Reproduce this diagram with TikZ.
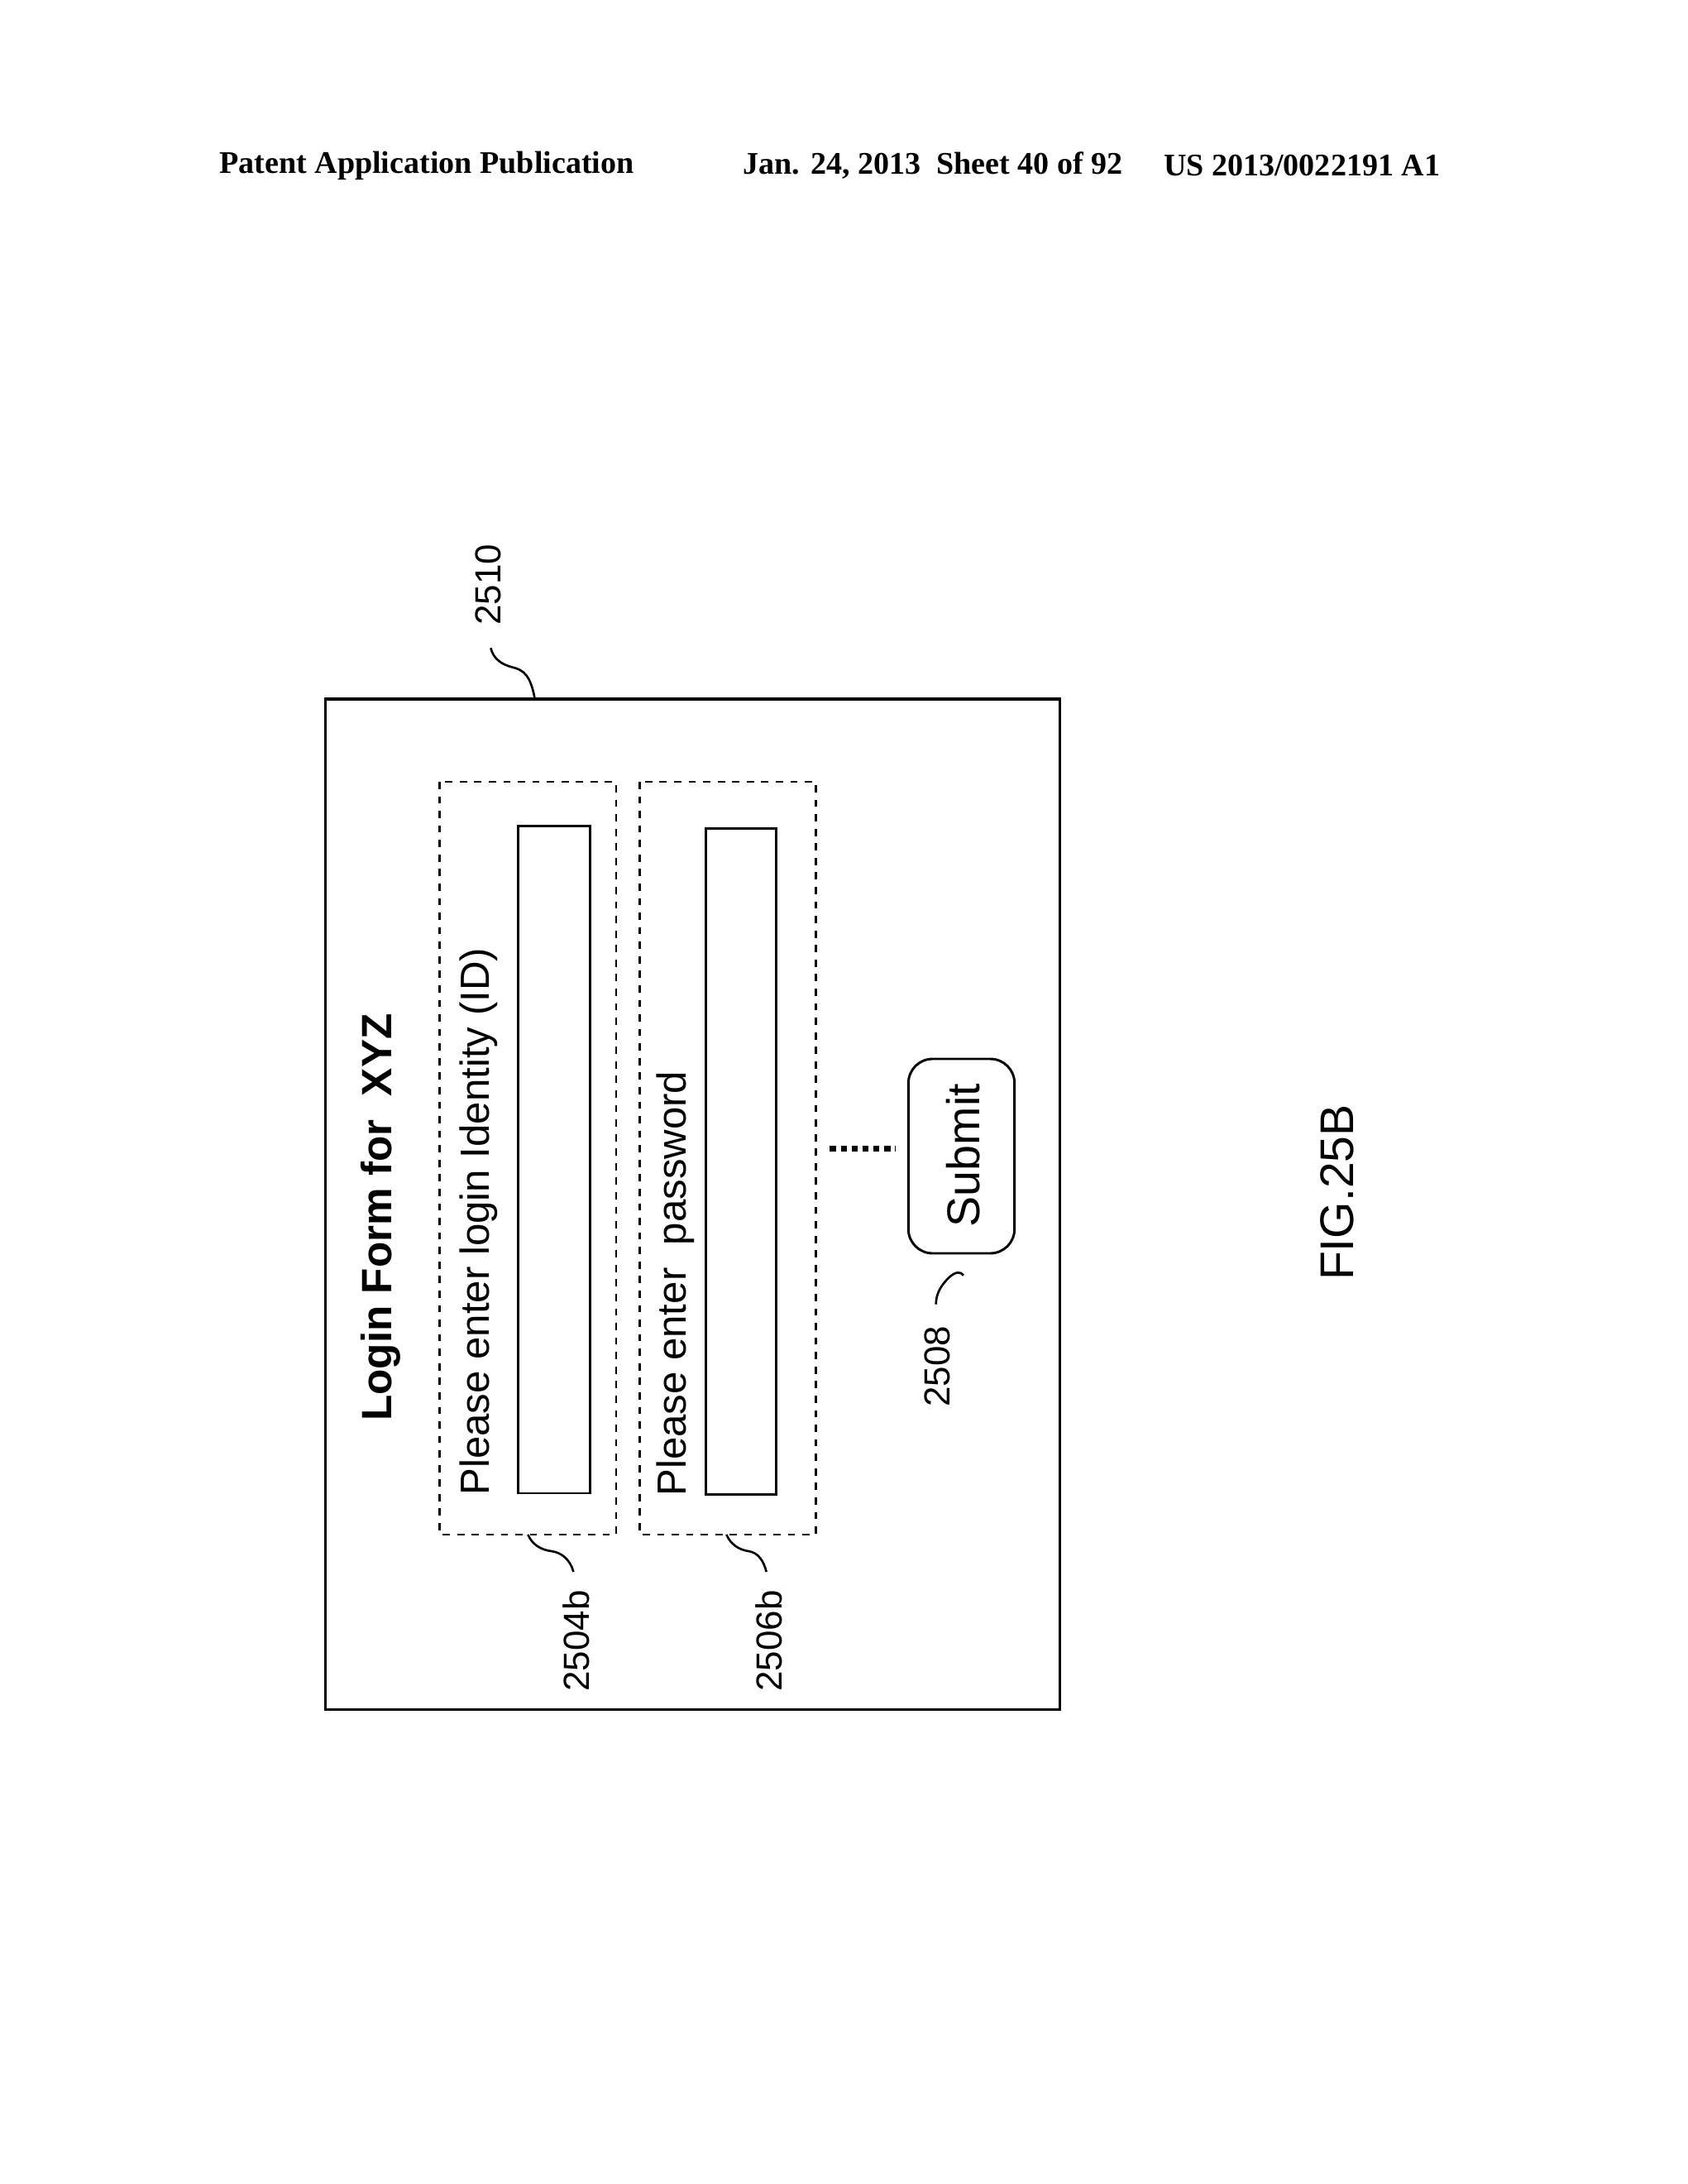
\documentclass[tikz,border=0pt]{standalone}
\usepackage{fontspec}
\setmainfont{Liberation Sans}
\newfontfamily\hdr{Liberation Serif}
\begin{document}
\begin{tikzpicture}[x=0.02cm,y=-0.02cm,
 box/.style={draw,line width=1.2pt},
 dbox/.style={draw,dashed,line width=1pt},
 lbl/.style={rotate=90,font=\fontsize{16.8}{19}\selectfont},
 num/.style={rotate=90,font=\fontsize{15}{17}\selectfont},
 lead/.style={line width=0.9pt},
 hd/.style={font=\hdr\bfseries\fontsize{13}{15}\selectfont}]
\useasboundingbox (0,0) rectangle (1224,1584);
\node[hd,anchor=west] (h1) at (153,120) {Patent Application Publication};
\node[hd,anchor=west] (h2) at (533,120) {Jan. 24, 2013\ \ Sheet 40 of 92};
\node[hd,anchor=west] (h3) at (838,120) {US 2013/0022191 A1};
\draw[box] (236,507) rectangle (769,1240);
\draw[dbox] (319,567) rectangle (447,1113);
\draw[box,line width=1pt] (376,599) rectangle (428,1083);
\draw[dbox] (464,567) rectangle (592,1113);
\draw[box,line width=1pt] (512,601) rectangle (563,1084);
\draw[box,line width=1pt,rounded corners=10pt] (659,768) rectangle (736,909);
\draw[dotted,line width=2.5pt] (602,833) -- (650,833);
\node[rotate=90,font=\bfseries\fontsize{17.5}{20}\selectfont] (t) at (276,883) {Login Form for\ \ XYZ};
\node[lbl] (p1) at (347,886) {Please enter login Identity (ID)};
\node[lbl] (p2) at (490,931) {Please enter\ \ password};
\node[lbl,font=\fontsize{19}{21}\selectfont] (s) at (699,838) {Submit};
\node[num] (n1) at (354,424) {2510};
\node[num] (n2) at (418,1190) {2504b};
\node[num] (n3) at (558,1190) {2506b};
\node[num] (n4) at (680,991) {2508};
\node[rotate=90,font=\fontsize{19.5}{24}\selectfont] (fig) at (970,865) {FIG.25B};
\draw[lead] (388,507) .. controls (385,490) and (380,486) .. (372,484) .. controls (364,482) and (358,478) .. (356,470);
\draw[lead] (383,1113) .. controls (386,1120) and (392,1124) .. (400,1125) .. controls (408,1126) and (414,1132) .. (416,1140);
\draw[lead] (527,1113) .. controls (530,1120) and (536,1124) .. (543,1125) .. controls (550,1126) and (554,1132) .. (556,1140);
\draw[lead] (699,925) .. controls (697,922) and (693,922) .. (688,927) .. controls (683,932) and (679,938) .. (679,946);
\end{tikzpicture}
\end{document}
